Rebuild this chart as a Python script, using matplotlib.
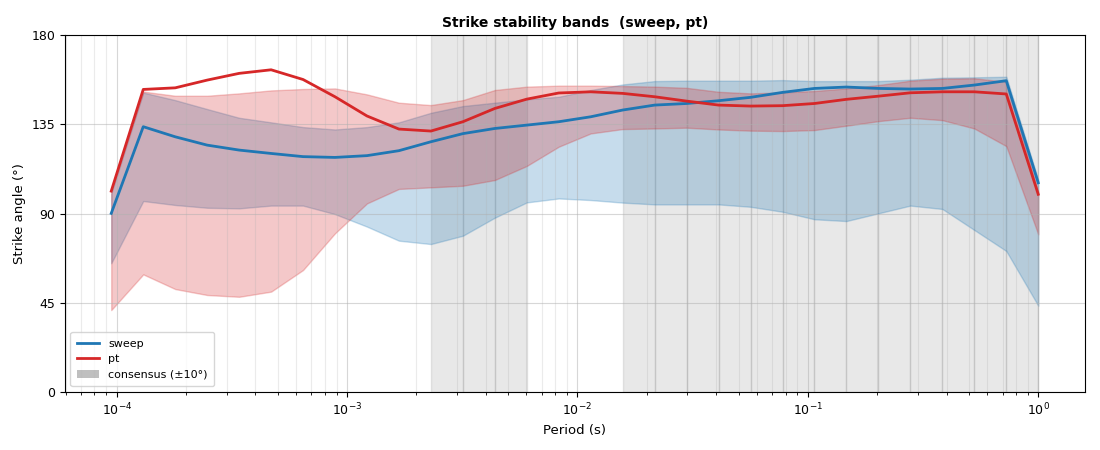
import matplotlib
matplotlib.use("Agg")
import matplotlib.pyplot as plt
from matplotlib.lines import Line2D
from matplotlib.patches import Patch

# periods (s)
period = [9.47e-5, 1.304e-4, 1.795e-4, 2.47e-4, 3.40e-4, 4.68e-4, 6.44e-4, 8.86e-4,
          1.220e-3, 1.679e-3, 2.311e-3, 3.181e-3, 4.378e-3, 6.026e-3, 8.294e-3,
          1.1417e-2, 1.571e-2, 2.163e-2, 2.977e-2, 4.097e-2, 5.639e-2, 7.762e-2,
          0.1068, 0.147, 0.2024, 0.2786, 0.3835, 0.5278, 0.7265, 1.0]

sweep = [90.1, 133.8, 128.7, 124.5, 122.0, 120.3, 118.7, 118.3, 119.2, 121.7,
         126.2, 130.3, 132.9, 134.6, 136.3, 138.8, 142.2, 144.7, 145.5, 146.9,
         148.6, 151.1, 153.1, 153.8, 153.1, 152.8, 153.1, 154.8, 157.0, 105.5]
sweep_lo = [64.9, 96.3, 94.3, 92.9, 92.6, 94.0, 94.0, 89.7, 83.4, 76.3,
            74.6, 78.8, 87.9, 95.6, 97.6, 96.8, 95.5, 94.6, 94.6, 94.6,
            93.4, 90.9, 87.1, 86.2, 90.1, 94.0, 92.3, 81.7, 71.1, 43.5]
sweep_hi = [100.0, 151.0, 147.2, 142.7, 138.3, 136.0, 133.6, 132.4, 133.6, 136.0,
            140.8, 144.2, 145.9, 147.6, 148.9, 152.3, 155.1, 156.8, 157.0, 157.0,
            157.0, 157.3, 156.8, 156.8, 156.8, 157.5, 158.5, 158.7, 159.0, 107.0]

pt = [101.3, 152.6, 153.4, 157.3, 160.7, 162.5, 157.6, 148.9, 139.2, 132.6,
      131.6, 136.3, 143.0, 147.7, 150.8, 151.4, 150.6, 148.9, 146.7, 144.7,
      144.2, 144.4, 145.5, 147.6, 149.2, 150.9, 151.4, 151.4, 150.3, 99.7]
pt_lo = [41.3, 59.3, 51.9, 48.9, 48.0, 50.6, 61.5, 80.0, 95.1, 102.4,
         103.2, 104.0, 106.9, 114.0, 123.7, 130.4, 132.6, 132.9, 133.3, 132.4,
         131.8, 131.6, 132.1, 134.3, 136.6, 138.3, 137.1, 132.9, 124.0, 79.5]
pt_hi = [101.5, 151.5, 149.4, 149.4, 150.6, 152.1, 152.8, 153.1, 150.1, 145.9,
         144.7, 147.2, 152.3, 154.0, 154.5, 154.5, 154.3, 154.0, 153.4, 151.4,
         150.6, 151.1, 151.8, 153.1, 154.8, 157.0, 158.0, 158.2, 156.5, 101.0]

# sweep and pt agree within 10 degrees
consensus = [0, 0, 0, 0, 0, 0, 0, 0, 0, 0,
             1, 1, 1, 0, 0, 0, 1, 1, 1, 1,
             1, 1, 1, 1, 1, 1, 1, 1, 1, 1]

fig, ax = plt.subplots(figsize=(11, 4.5), dpi=100)

for i in range(len(period)):
    if consensus[i]:
        x1 = period[min(i + 1, len(period) - 1)]
        ax.axvspan(period[i], x1, color="gray", alpha=0.18)

ax.fill_between(period, sweep_lo, sweep_hi, color="#1f77b4", alpha=0.25)
ax.fill_between(period, pt_lo, pt_hi, color="#d62728", alpha=0.25)
ax.plot(period, sweep, color="#1f77b4", lw=2, label="sweep")
ax.plot(period, pt, color="#d62728", lw=2, label="pt")

ax.set_xscale("log")
ax.set_ylim(0, 180)
ax.set_yticks([0, 45, 90, 135, 180])
ax.tick_params(labelsize=9)
ax.grid(True, which="major", alpha=0.5)
ax.grid(True, which="minor", axis="x", alpha=0.25)
ax.set_xlabel("Period (s)", fontsize=9.5)
ax.set_ylabel("Strike angle (°)", fontsize=9.5)
ax.set_title("Strike stability bands  (sweep, pt)", fontweight="bold", fontsize=10)

handles = [Line2D([], [], color="#1f77b4", lw=2),
           Line2D([], [], color="#d62728", lw=2),
           Patch(facecolor="gray", alpha=0.5)]
ax.legend(handles, ["sweep", "pt", "consensus (±10°)"], loc="lower left",
          fontsize=8, borderpad=0.6)

plt.subplots_adjust(left=0.059, right=0.986, top=0.922, bottom=0.129)
plt.savefig("out.png")
